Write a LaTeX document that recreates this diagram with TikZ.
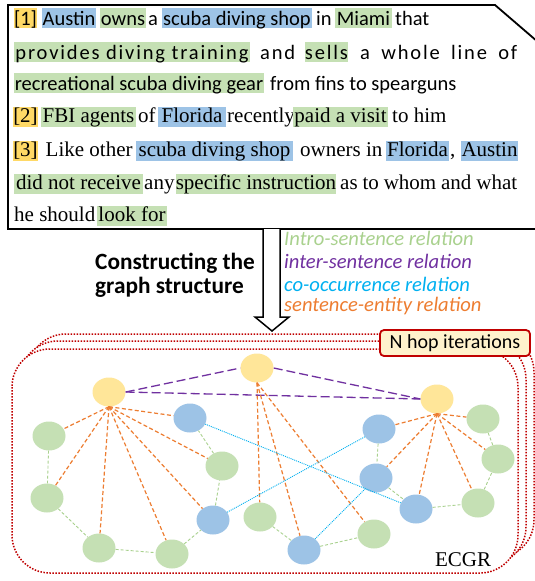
\documentclass[tikz,border=0pt]{standalone}
\usepackage{fontspec}
\setmainfont{Liberation Serif}
\newfontfamily\calfont{Carlito}
\usetikzlibrary{shapes.geometric}
\definecolor{hly}{RGB}{255,217,102}
\definecolor{hlb}{RGB}{157,195,230}
\definecolor{hlg}{RGB}{197,224,180}
\definecolor{ny}{RGB}{255,230,153}
\definecolor{cpur}{RGB}{112,48,160}
\definecolor{cora}{RGB}{237,125,49}
\definecolor{cgrn}{RGB}{169,209,142}
\definecolor{ccya}{RGB}{0,176,240}
\definecolor{cred}{RGB}{192,0,0}
\definecolor{cbox}{RGB}{255,242,204}
\tikzset{
  cal/.style={font=\calfont\fontsize{20.5}{24}\selectfont, inner sep=0pt, text height=17pt, text depth=3pt},
  calls/.style={font=\calfont\fontsize{20.5}{24}\selectfont\addfontfeature{LetterSpace=9}, inner sep=0pt, text height=17pt, text depth=3pt},
  tms/.style={font=\fontsize{21}{24}\selectfont, inner sep=0pt, text height=15pt, text depth=5pt},
  pl/.style={anchor=west},
  hy/.style={fill=hly},
  hb/.style={fill=hlb},
  hg/.style={fill=hlg},
  ent/.style={ellipse, minimum width=33pt, minimum height=29pt, inner sep=0pt, fill=hlb},
  wrd/.style={ellipse, minimum width=33pt, minimum height=29pt, inner sep=0pt, fill=hlg},
  snt/.style={ellipse, minimum width=33pt, minimum height=29pt, inner sep=0pt, fill=ny},
  serel/.style={draw=cora, line width=1.2pt, dash pattern=on 4pt off 2.5pt},
  inrel/.style={draw=cgrn, line width=0.9pt, dash pattern=on 3pt off 2pt},
  itrel/.style={draw=cpur, line width=1.3pt, dash pattern=on 9pt off 4pt},
  corel/.style={draw=ccya, line width=0.9pt, dash pattern=on 1pt off 1pt},
  hop/.style={draw=cred, line width=1.5pt, dash pattern=on 1.5pt off 1.5pt, rounded corners=38pt, fill=white},
  leg/.style={font=\calfont\itshape\fontsize{20.6}{24}\selectfont, anchor=west, inner sep=0pt, text height=13pt, text depth=3pt},
  capt/.style={font=\calfont\bfseries\fontsize{23.3}{26}\selectfont, anchor=west, inner sep=0pt}
}
\begin{document}
\begin{tikzpicture}[x=1pt,y=-1pt]
\useasboundingbox (0,0) rectangle (535,581);
% ---- text box ----
\draw[line width=1.8pt] (8,5) -- (495,5) -- (538,42) -- (538,229) -- (8,229) -- cycle;
% line 1
\node[cal,hy,minimum width=23pt] (a1) at (25.5,18) {[1]};
\node[cal,hb,minimum width=54pt] (a2) at (69,18) {Austin};
\node[cal,hg,minimum width=46pt] (a3) at (123,18) {owns};
\node[cal,pl] (a4) at (148,18) {a};
\node[cal,hb,minimum width=150pt] (a5) at (237,18) {scuba diving shop};
\node[cal,pl] (a6) at (316,18) {in};
\node[cal,hg,minimum width=57pt] (a7) at (363.5,18) {Miami};
\node[cal,pl] (a8) at (395,18) {that};
% line 2
\node[calls,hg,minimum width=236pt] (b1) at (132,52) {provides diving training};
\node[calls,pl] (b2) at (260,52) {and};
\node[calls,hg,minimum width=41pt] (b3) at (326.5,52) {sells};
\node[calls,pl] (b4) at (360,52) {\makebox[157pt][s]{a whole line of}};
% line 3
\node[cal,hg,minimum width=250pt] (c1) at (139,83) {recreational scuba diving gear};
\node[cal,pl] (c2) at (270,83) {from fins to spearguns};
% line 4
\node[tms,hy,minimum width=23pt] (d1) at (25.5,117) {[2]};
\node[tms,hg,minimum width=95pt] (d2) at (88.5,117) {FBI agents};
\node[tms,pl] (d3) at (138,117) {of};
\node[tms,hb,minimum width=68pt] (d4) at (192,117) {Florida};
\node[tms,pl] (d5) at (227,117) {recently};
\node[tms,hg,minimum width=95pt] (d6) at (340.5,117) {paid a visit};
\node[tms,pl] (d7) at (392,117) {to him};
% line 5
\node[tms,hy,minimum width=23pt] (e1) at (25.5,151) {[3]};
\node[tms,pl] (e2) at (45.5,151) {Like other};
\node[tms,hb,minimum width=157pt] (e3) at (214.5,151) {scuba diving shop};
\node[tms,pl] (e4) at (300,151) {owners in};
\node[tms,hb,minimum width=63pt] (e5) at (417.5,151) {Florida};
\node[tms,pl] (e6) at (450,151) {,};
\node[tms,hb,minimum width=57pt] (e7) at (489.5,151) {Austin};
% line 6
\node[tms,hg,minimum width=129pt] (f1) at (78.5,184) {did not receive};
\node[tms,pl] (f2) at (144,184) {any};
\node[tms,hg,minimum width=160pt] (f3) at (256,184) {specific instruction};
\node[tms,pl] (f4) at (340,184) {\makebox[177pt][s]{as to whom and what}};
% line 7
\node[tms,pl] (g1) at (14,216) {he should};
\node[tms,hg,minimum width=70pt] (g2) at (132,216) {look for};
% ---- arrow ----
\draw[line width=1.5pt, fill=white, line join=miter] (263,229) -- (263,317) -- (255,317) -- (272,331) -- (289,317) -- (280,317) -- (280,229);
% ---- caption and legend ----
\node[capt] (cap1) at (95,263) {Constructing the};
\node[capt] (cap2) at (95,287) {graph structure};
\node[leg, text=cgrn] (l1) at (284,240) {Intro-sentence relation};
\node[leg, text=cpur] (l2) at (284,263) {inter-sentence relation};
\node[leg, text=ccya] (l3) at (284,286) {co-occurrence relation};
\node[leg, text=cora] (l4) at (284,306) {sentence-entity relation};
% ---- hop frames ----
\draw[hop] (28,334) rectangle (534,558);
\draw[hop] (20,341) rectangle (526,565);
\draw[hop] (12,349) rectangle (518,573);
\node[draw=cred, line width=1.8pt, fill=cbox, rounded corners=4pt, minimum width=150pt, minimum height=26pt, inner sep=0pt, font=\calfont\fontsize{20}{22}\selectfont] (hopbox) at (455,343) {N hop iterations};
\node[font=\fontsize{21}{24}\selectfont, inner sep=0pt] (ecgr) at (463,560) {ECGR};
% ---- graph nodes ----
\node[snt] (Y1) at (109,392) {};
\node[snt] (Y2) at (257,368) {};
\node[snt] (Y3) at (437,399) {};
\node[ent] (B1) at (190,418) {};
\node[ent] (B2) at (213,520) {};
\node[ent] (B3) at (379,429) {};
\node[ent] (B4) at (376,478) {};
\node[ent] (B5) at (416,509) {};
\node[ent] (B6) at (304,550) {};
\node[wrd] (G1) at (49,436) {};
\node[wrd] (G2) at (222,466) {};
\node[wrd] (G3) at (47,498) {};
\node[wrd] (G4) at (260,517) {};
\node[wrd] (G5) at (99,548) {};
\node[wrd] (G6) at (172,554) {};
\node[wrd] (G7) at (483,419) {};
\node[wrd] (G8) at (498,459) {};
\node[wrd] (G9) at (478,503) {};
\node[wrd] (G10) at (374,534) {};
% ---- edges ----
\draw[itrel] (Y1.east) -- (Y2.west);
\draw[itrel] (Y1.east) -- (Y3.west);
\draw[itrel] (Y2.east) -- (Y3.west);
\foreach \t in {G1,G3,G5,G6,B2,G2,B1} \draw[serel] (Y1.south) -- (\t);
\foreach \t in {G4,B6,G10} \draw[serel] (Y2.south) -- (\t);
\foreach \t in {B3,B4,B5,G9,G8,G7} \draw[serel] (Y3.south) -- (\t);
\draw[inrel] (G1) -- (G3) -- (G5) -- (G6) -- (B2) -- (G2) -- (B1);
\draw[inrel] (B3) -- (B4) -- (B5) -- (G9) -- (G8) -- (G7);
\draw[inrel] (G4) -- (B6) -- (G10);
\draw[corel] (B1) -- (B5);
\draw[corel] (B2) -- (B3);
\draw[corel] (B6) -- (B4);
\end{tikzpicture}
\end{document}
